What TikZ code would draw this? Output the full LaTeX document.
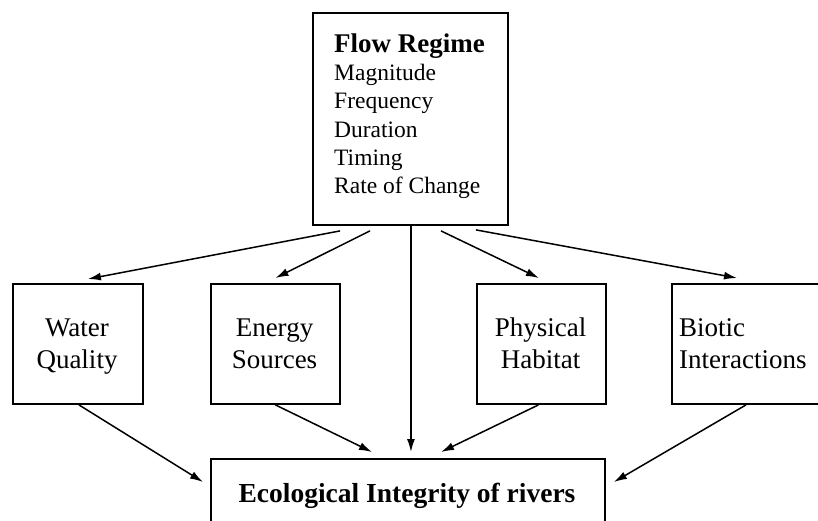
\documentclass[tikz,border=0pt]{standalone}
\usepackage{fontspec}
\setmainfont{Liberation Serif}
\usetikzlibrary{arrows.meta}
\tikzset{
  box/.style={draw, line width=1.9pt, rectangle, inner sep=0pt, anchor=north west},
  arr/.style={line width=1.5pt, -{Latex[length=13pt,width=8pt]}},
  txt/.style={inner sep=0pt, font=\fontsize{27}{32}\selectfont},
  ttl/.style={inner sep=0pt, anchor=base west, font=\fontsize{27}{28}\selectfont\bfseries},
  lst/.style={inner sep=0pt, anchor=base west, font=\fontsize{23.5}{28}\selectfont},
}
\begin{document}
\begin{tikzpicture}[x=1pt,y=-1pt]
\useasboundingbox (0,0) rectangle (818,520);
\clip (0,0) rectangle (818,520);
% boxes
\node[box, minimum width=195pt, minimum height=212pt] (flow) at (312,12) {};
\node[box, minimum width=130pt, minimum height=120pt] (wq) at (12,283) {};
\node[box, minimum width=129pt, minimum height=120pt] (es) at (210,283) {};
\node[box, minimum width=129pt, minimum height=120pt] (ph) at (476,283) {};
\node[box, minimum width=160pt, minimum height=120pt] (bi) at (671,283) {};
\node[box, minimum width=394pt, minimum height=80pt] (eco) at (210,458) {};
% texts
\node[ttl] (t0) at (334,52) {Flow Regime};
\node[lst] (t1) at (334,80.5) {Magnitude};
\node[lst] (t2) at (334,108.8) {Frequency};
\node[lst] (t3) at (334,137) {Duration};
\node[lst] (t4) at (334,165.3) {Timing};
\node[lst] (t5) at (334,193.6) {Rate of Change};
\node[txt, anchor=base] (wq1) at (77,336) {Water};
\node[txt, anchor=base] (wq2) at (77,368) {Quality};
\node[txt, anchor=base] (es1) at (274.5,336) {Energy};
\node[txt, anchor=base] (es2) at (274.5,368) {Sources};
\node[txt, anchor=base] (ph1) at (540.5,336) {Physical};
\node[txt, anchor=base] (ph2) at (540.5,368) {Habitat};
\node[txt, anchor=base west] (bi1) at (679,336) {Biotic};
\node[txt, anchor=base west] (bi2) at (679,368) {Interactions};
\node[txt, anchor=base, font=\fontsize{27.5}{30}\selectfont\bfseries] (eco1) at (407,502) {Ecological Integrity of rivers};
% arrows from flow regime
\draw[arr] ([xshift=28pt,yshift=-5pt]flow.south west) -- ([xshift=10pt,yshift=4pt]wq.north);
\draw[arr] ([xshift=58pt,yshift=-5pt]flow.south west) -- ([yshift=5pt]es.north);
\draw[arr] ([xshift=0.5pt]flow.south) -- ([xshift=0.5pt,yshift=6pt]flow.south |- eco.north);
\draw[arr] ([xshift=129pt,yshift=-5pt]flow.south west) -- ([xshift=-2.5pt,yshift=5pt]ph.north);
\draw[arr] ([xshift=164pt,yshift=-4pt]flow.south west) -- ([xshift=66pt,yshift=5pt]bi.north west);
% arrows into ecological integrity
\draw[arr] ([xshift=1pt]wq.south) -- ([xshift=-7pt,yshift=-24pt]eco.north west);
\draw[arr] (es.south) -- ([xshift=162pt,yshift=6pt]eco.north west);
\draw[arr] ([xshift=-3pt]ph.south) -- ([xshift=231pt,yshift=6pt]eco.north west);
\draw[arr] ([xshift=75pt]bi.south west) -- ([xshift=8pt,yshift=-24pt]eco.north east);
\end{tikzpicture}
\end{document}
